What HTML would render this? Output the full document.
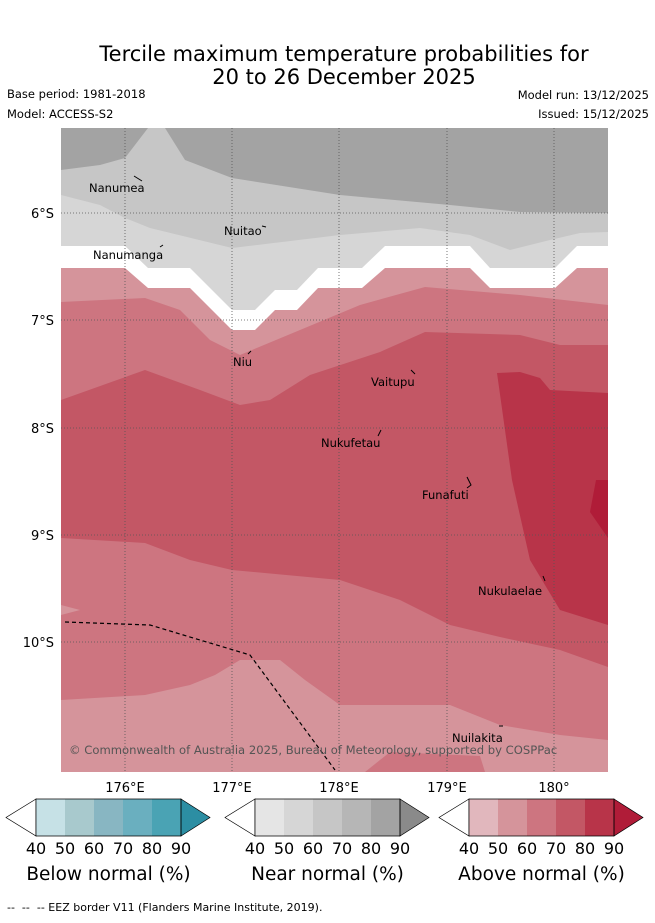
<!DOCTYPE html>
<html><head><meta charset="utf-8"><style>
body{margin:0;background:#fff;width:655px;height:919px;overflow:hidden;font-family:"DejaVu Sans",sans-serif}
</style></head><body>
<svg width="655" height="919" xmlns="http://www.w3.org/2000/svg" font-family="DejaVu Sans, sans-serif">
<text x="344" y="61" font-size="21" text-anchor="middle">Tercile maximum temperature probabilities for</text>
<text x="344" y="84" font-size="21" text-anchor="middle">20 to 26 December 2025</text>
<text x="7" y="98" font-size="11.5">Base period: 1981-2018</text>
<text x="7" y="118" font-size="11.5">Model: ACCESS-S2</text>
<text x="649" y="99" font-size="11.5" text-anchor="end">Model run: 13/12/2025</text>
<text x="649" y="118" font-size="11.5" text-anchor="end">Issued: 15/12/2025</text>
<defs><clipPath id="mc"><rect x="61" y="128" width="547" height="644"/></clipPath></defs>
<g clip-path="url(#mc)">
<rect x="61" y="128" width="547" height="644" fill="#a3a3a3"/>
<polygon fill="#c6c6c6" points="61,170 100,165 125,158 148,128 165,128 185,160 232,178 340,195 450,205 520,212 608,213 608,772 61,772"/>
<polygon fill="#d6d6d6" points="61,195 100,205 125,218 150,228 232,248 340,235 420,228 470,235 510,250 550,240 580,233 608,232 608,772 61,772"/>
<polygon fill="#ffffff" points="61,246 125,246 148,268 190,268 232,310 255,310 275,290 297,290 318,268 362,268 385,246 470,246 490,268 555,268 577,246 608,246 608,772 61,772"/>
<polygon fill="#d5949b" points="61,268 125,268 148,288 190,288 232,330 255,330 275,310 297,310 318,288 362,288 385,268 470,268 490,288 555,288 577,268 608,268 608,772 61,772"/>
<polygon fill="#cd7580" points="61,302 145,298 180,310 210,340 240,355 300,330 360,305 425,287 520,295 608,305 608,772 61,772"/>
<polygon fill="#c35765" points="61,400 145,370 200,390 240,405 270,400 310,375 380,352 425,332 520,335 560,345 608,345 608,772 61,772"/>
<polygon fill="#b83449" points="497,373 520,372 540,378 550,390 608,393 608,625 560,610 530,560 512,480"/>
<polygon fill="#b01c38" points="596,480 608,480 608,538 590,512"/>
<polygon fill="#cd7580" points="61,538 145,543 190,560 232,570 340,580 400,600 450,625 500,637 560,650 608,667 608,772 61,772"/>
<polygon fill="#d5949b" points="61,700 145,695 190,685 215,675 240,660 280,660 305,680 340,705 450,705 500,725 560,735 608,740 608,772 61,772"/>
<polygon fill="#d5949b" points="61,605 80,610 61,615"/>
<polygon fill="#cd7580" points="365,772 390,752 480,756 485,772"/>
<g stroke="#555" stroke-width="0.8" stroke-dasharray="1,2">
<line x1="125" y1="128" x2="125" y2="772"/><line x1="232" y1="128" x2="232" y2="772"/><line x1="339" y1="128" x2="339" y2="772"/><line x1="447" y1="128" x2="447" y2="772"/><line x1="554" y1="128" x2="554" y2="772"/>
<line x1="61" y1="213" x2="608" y2="213"/><line x1="61" y1="320" x2="608" y2="320"/><line x1="61" y1="428" x2="608" y2="428"/><line x1="61" y1="535" x2="608" y2="535"/><line x1="61" y1="642" x2="608" y2="642"/>
</g>
<polyline points="65,622 150,625 250,655 335,770" fill="none" stroke="#000" stroke-width="1.2" stroke-dasharray="4,3"/>
<g font-size="11.5">
<text x="89" y="192">Nanumea</text><path d="M134,176 L142,181" stroke="#000"/>
<text x="224" y="235">Nuitao</text><path d="M262,226 L266,227" stroke="#000"/>
<text x="93" y="259">Nanumanga</text><path d="M160,247 L163,245" stroke="#000"/>
<text x="233" y="366">Niu</text><path d="M248,354 L251,351" stroke="#000"/>
<text x="371" y="386">Vaitupu</text><path d="M411,370 L415,374" stroke="#000"/>
<text x="321" y="447">Nukufetau</text><path d="M378,436 L381,430" stroke="#000"/>
<text x="422" y="499">Funafuti</text><path d="M467,477 L471,485 L467,488" stroke="#000" fill="none"/>
<text x="478" y="595">Nukulaelae</text><path d="M543,576 L545,581" stroke="#000"/>
<text x="452" y="742">Nuilakita</text><path d="M499,726 L503,726" stroke="#000"/>
</g>
<text x="69" y="754" font-size="11.6" fill="#555">© Commonwealth of Australia 2025, Bureau of Meteorology, supported by COSPPac</text>
</g>
<g font-size="13">
<text x="54" y="218" text-anchor="end">6°S</text><text x="54" y="325" text-anchor="end">7°S</text><text x="54" y="433" text-anchor="end">8°S</text><text x="54" y="540" text-anchor="end">9°S</text><text x="54" y="647" text-anchor="end">10°S</text>
<text x="125" y="792" text-anchor="middle">176°E</text><text x="232" y="792" text-anchor="middle">177°E</text><text x="339" y="792" text-anchor="middle">178°E</text><text x="447" y="792" text-anchor="middle">179°E</text><text x="554" y="792" text-anchor="middle">180°</text>
</g>
<g id="cbars"></g>
<text x="7" y="911" font-size="11">-- &#160;-- &#160;-- EEZ border V11 (Flanders Marine Institute, 2019).</text>
</svg>
<script>
const tickLabels=["40","50","60","70","80","90"];
const belowColors=["#c6e1e6","#a8c9cd","#88b6c2","#6aafbf","#4aa3b4","#2c8ea3"];
const nearColors=["#e5e5e5","#d6d6d6","#c6c6c6","#b6b6b6","#a3a3a3","#8a8a8a"];
const aboveColors=["#e1b7bd","#d5949b","#cd7580","#c35765","#b83449","#b01c38"];
const bars=[["below",6,belowColors,"Below normal (%)"],["near",225,nearColors,"Near normal (%)"],["above",439,aboveColors,"Above normal (%)"]];
const ns="http://www.w3.org/2000/svg",g=document.getElementById('cbars');
bars.forEach(([k,x0,cols,title])=>{
 const grp=document.createElementNS(ns,'g');
 
 
 const y0=799,h=37,w=29,tri=30,cy=y0+h/2;
 let s=`<polygon points="${x0+tri},${y0} ${x0},${cy} ${x0+tri},${y0+h}" fill="#fff" stroke="#000" stroke-width="0.7"/>`;
 for(let i=0;i<5;i++)s+=`<rect x="${x0+tri+i*w}" y="${y0}" width="${w}" height="${h}" fill="${cols[i]}"/>`;
 const xe=x0+tri+5*w;
 s+=`<polygon points="${xe},${y0} ${xe+tri-1},${cy} ${xe},${y0+h}" fill="${cols[5]}" stroke="#000" stroke-width="0.7"/>`;
 s+=`<polygon points="${x0+tri},${y0} ${xe},${y0} ${xe},${y0+h} ${x0+tri},${y0+h}" fill="none" stroke="#000" stroke-width="0.7"/>`;
 tickLabels.forEach((t,i)=>{s+=`<text x="${x0+tri+i*w}" y="854" font-size="16" text-anchor="middle">${t}</text>`;});
 s+=`<text x="${x0+tri+2.5*w}" y="880" font-size="18.5" text-anchor="middle">${title}</text>`;
 grp.innerHTML=s;g.appendChild(grp);
});
</script>
</body></html>
